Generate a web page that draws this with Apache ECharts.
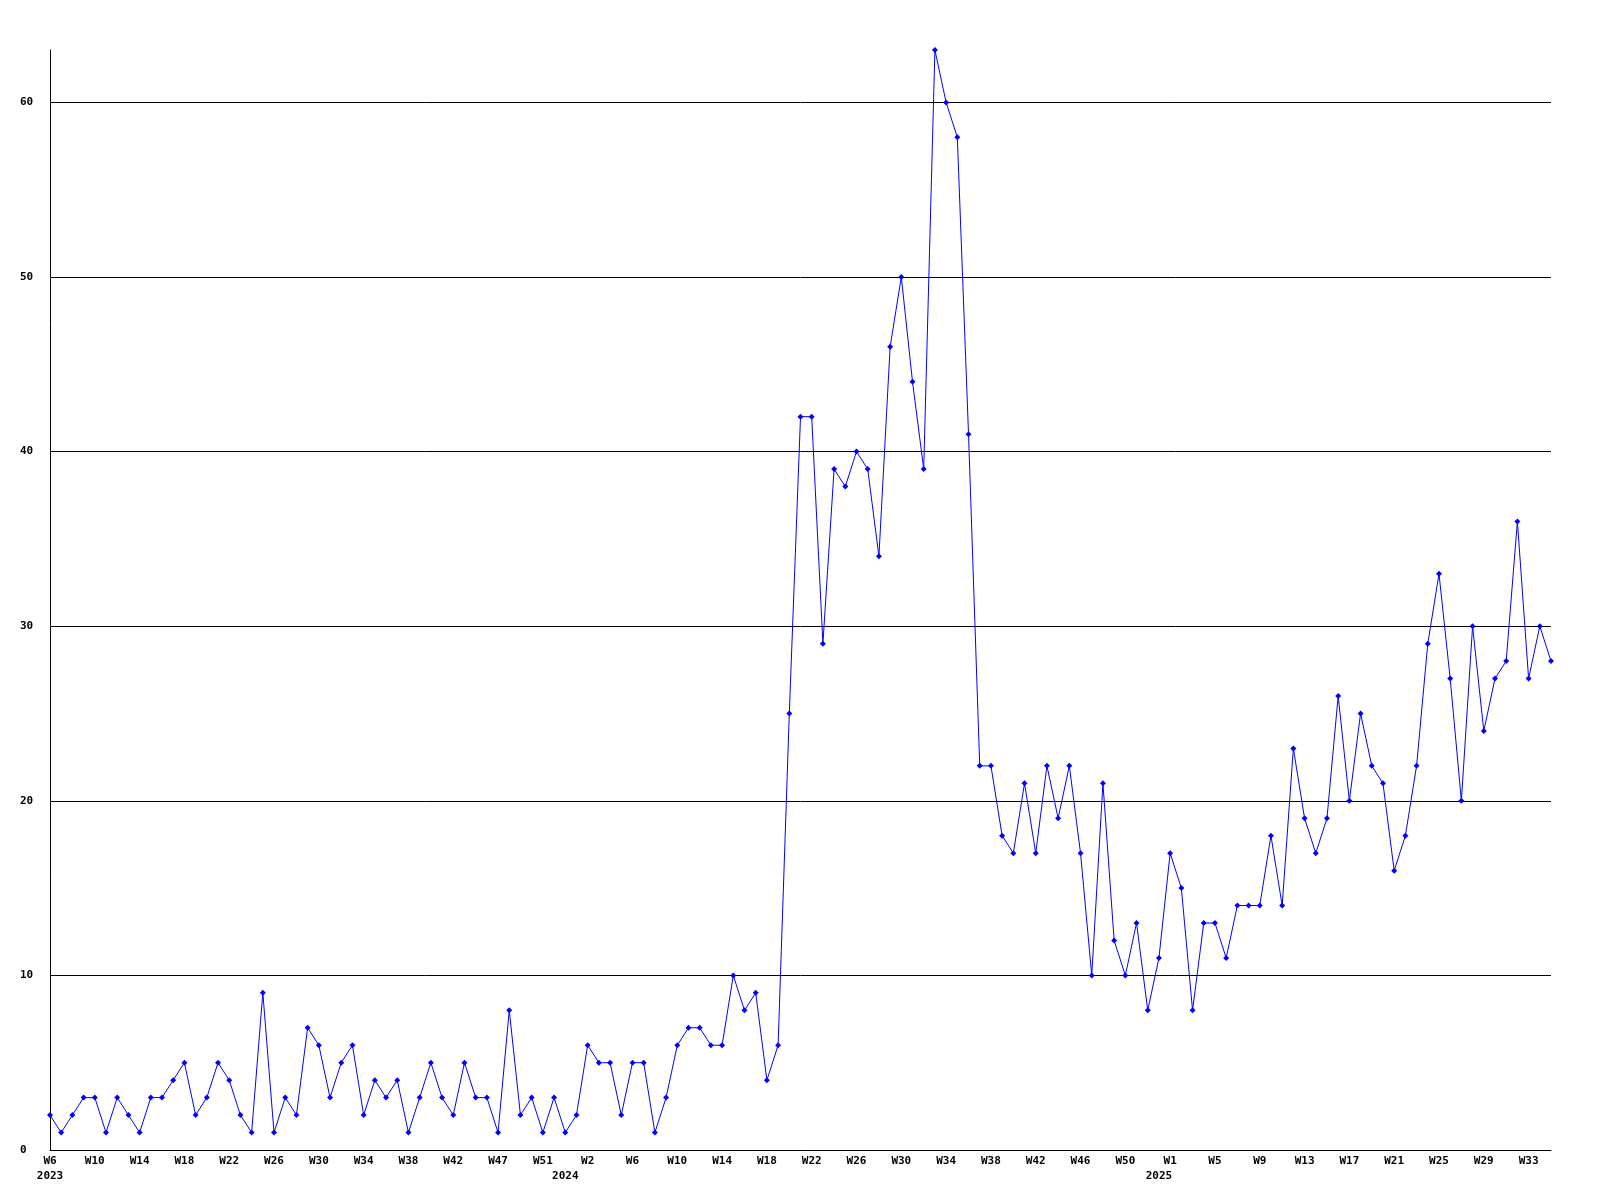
<!DOCTYPE html>
<html>
<head>
<meta charset="utf-8">
<script src="https://cdn.jsdelivr.net/npm/echarts@6/dist/echarts.min.js"></script>
<style>
html,body{margin:0;padding:0;background:#fff;}
#chart{width:1600px;height:1200px;}
</style>
</head>
<body>
<div id="chart"></div>
<script>
// Weekly counts
const counts2023 = [2,1,2,3,3,1,3,2,1,3, 3,4,5,2,3,5,4,2,1,9, 1,3,2,7,6,3,5,6,2,4, 3,4,1,3,5,3,2,5,3,3, 1,8,2,3,1,3,1];
const counts2024 = [2,6,5,5,2,5,5,1,3,6, 7,7,6,6,10,8,9,4,6,
  25,42,42,29,39,38,40,39,34,46, 50,44,39,63,60,58,41,22,22,18, 17,21,17,22,19,22,17,10,21,12, 10,13,8,11];
const counts2025 = [17,15,8,13,13,11,14,14,14,18, 14,23,19,17,19,26,20,25,22,21, 16,18,22,29,33,27,20,30,24,27, 28,36,27,30,28];

// Tick labels shown every 4th week
const weekTicks = ['W6','W10','W14','W18','W22','W26','W30','W34','W38','W42','W47','W51',
  'W2','W6','W10','W14','W18','W22','W26','W30','W34','W38','W42','W46','W50',
  'W1','W5','W9','W13','W17','W21','W25','W29','W33'];
const years = ['2023','2024','2025'];

const values = counts2023.concat(counts2024, counts2025);
const cats = values.map((v, i) => 'p' + i);
const tickStep = 4;
const yearAt = [0, 46, 99];

const font = {fontFamily: 'DejaVu Sans Mono', fontWeight: 'bold', fontSize: 11, color: '#000'};

const chart = echarts.init(document.getElementById('chart'), null, {renderer: 'canvas'});
chart.setOption({
  animation: false,
  backgroundColor: '#fff',
  grid: {left: 50, right: 49, top: 50, bottom: 50, containLabel: false},
  xAxis: [{
    type: 'category',
    data: cats,
    boundaryGap: false,
    position: 'bottom',
    axisLine: {show: true, lineStyle: {color: '#000', width: 1}},
    axisTick: {show: false},
    splitLine: {show: false},
    axisLabel: Object.assign({
      interval: (i) => i % tickStep === 0,
      formatter: (v, i) => weekTicks[i / tickStep] || '',
      margin: 6
    }, font)
  }, {
    type: 'category',
    data: cats,
    boundaryGap: false,
    position: 'bottom',
    axisLine: {show: false},
    axisTick: {show: false},
    splitLine: {show: false},
    axisLabel: Object.assign({
      interval: (i) => yearAt.indexOf(i) >= 0,
      formatter: (v, i) => { const k = yearAt.indexOf(i); return k >= 0 ? years[k] : ''; },
      margin: 21
    }, font)
  }],
  yAxis: {
    type: 'value',
    min: 0,
    max: 63,
    interval: 10,
    axisLine: {show: true, lineStyle: {color: '#000', width: 1}},
    axisTick: {show: false},
    splitLine: {show: true, lineStyle: {color: ['#000','#000','#000','#000','#000','#000','#000','rgba(0,0,0,0)'], width: 1}},
    axisLabel: Object.assign({
      align: 'left',
      margin: 30,
      showMaxLabel: false,
      formatter: (v) => (v % 10 === 0 ? String(v) : '')
    }, font)
  },
  series: [{
    type: 'line',
    data: values,
    xAxisIndex: 0,
    symbol: 'diamond',
    symbolSize: 6,
    showAllSymbol: true,
    lineStyle: {color: '#0000ff', width: 1},
    itemStyle: {color: '#0000ff'},
    emphasis: {disabled: true}
  }]
});
</script>
</body>
</html>
